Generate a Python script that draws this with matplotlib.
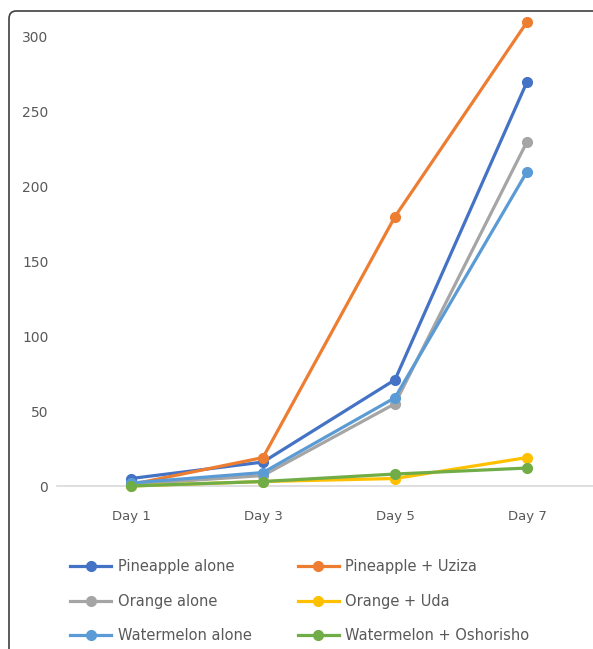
import matplotlib.pyplot as plt
from matplotlib.patches import FancyBboxPatch

days = ["Day 1", "Day 3", "Day 5", "Day 7"]

pineapple_alone = [5, 16, 71, 270]
pineapple_uziza = [1, 19, 180, 310]
orange_alone = [1, 7, 55, 230]
orange_uda = [0, 3, 5, 19]
watermelon_alone = [2, 9, 59, 210]
watermelon_oshorisho = [0, 3, 8, 12]

series = [
    ("Pineapple alone", pineapple_alone, "#4472C4"),
    ("Pineapple + Uziza", pineapple_uziza, "#ED7D31"),
    ("Orange alone", orange_alone, "#A5A5A5"),
    ("Orange + Uda", orange_uda, "#FFC000"),
    ("Watermelon alone", watermelon_alone, "#5B9BD5"),
    ("Watermelon + Oshorisho", watermelon_oshorisho, "#70AD47"),
]

fig = plt.figure(figsize=(5.93, 6.49), dpi=100)
ax = fig.add_axes([65 / 593, 1 - 486 / 649, 528 / 593, 449 / 649])

x = [i + 0.5 for i in range(len(days))]
handles = {}
for name, vals, col in series:
    (ln,) = ax.plot(x, vals, color=col, lw=2.3, marker="o", ms=7,
                    label=name, clip_on=False, zorder=3)
    handles[name] = ln

ax.plot([-0.06, 4], [0, 0], color="#D9D9D9", lw=1.2, zorder=1, clip_on=False)
ax.set_xlim(0, 4)
ax.set_ylim(0, 300)
ax.set_xticks(x)
ax.set_xticklabels(days)
ax.set_yticks(range(0, 301, 50))
ax.tick_params(length=0, labelsize=9.5, colors="#595959")
ax.tick_params(axis="x", pad=17)
ax.tick_params(axis="y", pad=12, labelsize=10)
for s in ax.spines.values():
    s.set_visible(False)

# legend is filled column by column, so reorder to read row by row
order = ["Pineapple alone", "Orange alone", "Watermelon alone",
         "Pineapple + Uziza", "Orange + Uda", "Watermelon + Oshorisho"]
leg = fig.legend([handles[n] for n in order], order, ncol=2,
                 loc="upper left", bbox_to_anchor=(57 / 593, 1 - 546 / 649),
                 frameon=False, fontsize=10.5, handlelength=2.8,
                 handletextpad=0.45, labelspacing=1.35, columnspacing=3.2)
for t in leg.get_texts():
    t.set_color("#595959")

border = FancyBboxPatch((9 / 593, -0.05), 1.2, 1.05 - 11 / 649,
                        boxstyle="round,pad=0,rounding_size=0.012",
                        transform=fig.transFigure, fill=False,
                        ec="#404040", lw=1.2)
fig.patches.append(border)

fig.savefig("out.png", dpi=100)
